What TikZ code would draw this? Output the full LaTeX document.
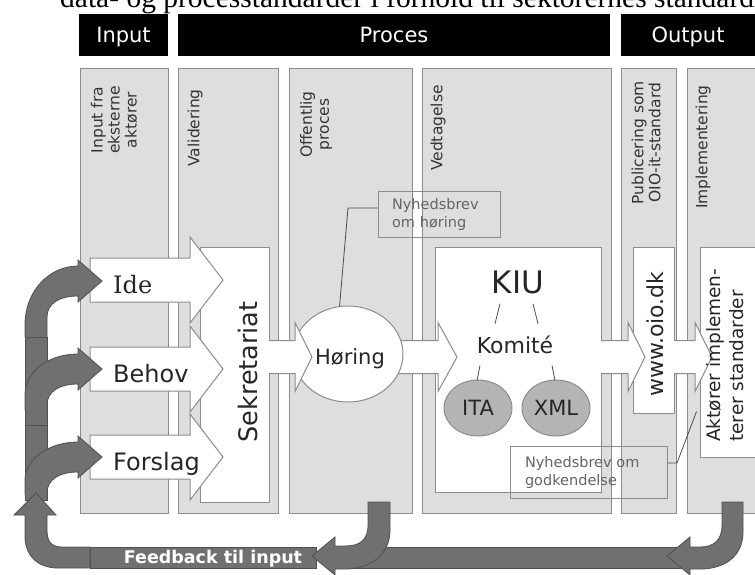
\documentclass[tikz,border=0pt]{standalone}
\usepackage{fontspec}
\setmainfont{Liberation Serif}
\newfontfamily\vsans{DejaVu Sans}
\newfontfamily\vserif{DejaVu Serif}
\usepackage{tikz}
\usetikzlibrary{positioning,shapes.geometric}
\definecolor{colfill}{RGB}{222,222,222}
\definecolor{colline}{RGB}{140,140,140}
\definecolor{fback}{RGB}{112,112,112}
\definecolor{fbline}{RGB}{80,80,80}
\definecolor{udvfill}{RGB}{180,180,180}
\definecolor{notetext}{RGB}{100,100,100}
\newcommand{\fsz}[2]{\fontsize{#1pt}{#2pt}\selectfont}

\begin{document}
\begin{tikzpicture}[x=1pt,y=-1pt,
  column/.style={fill=colfill,draw=colline,line width=1pt},
  whitebox/.style={fill=white,draw=colline,line width=1pt,inner sep=0pt},
  headbar/.style={fill=black,text=white,inner sep=0pt,text height=15pt,text depth=0pt,minimum height=42pt,font=\vsans\fsz{21}{24}},
  coltext/.style={rotate=90,anchor=east,inner sep=0pt,align=center,text=black!80,font=\vsans\fsz{15.5}{17}},
  boxtext/.style={inner sep=0pt,text=black!85,font=\vsans\fsz{#1}{#1}},
  blockarrow/.style={fill=white,draw=colline,line width=1pt},
  feedback/.style={fill=fback,draw=fbline,line width=0.8pt},
  note/.style={draw=colline,line width=0.8pt,align=left,inner xsep=14pt,inner ysep=0pt,text=notetext,font=\vsans\fsz{14.5}{18}},
  thinline/.style={draw=black!70,line width=0.8pt},
  udvalg/.style={ellipse,fill=udvfill,draw=colline,line width=1pt,minimum width=68pt,minimum height=56pt,inner sep=0pt,text=black!85,font=\vsans\fsz{21}{24}}]
  \useasboundingbox (0,0) rectangle (755,574);
  \clip (0,0) rectangle (755,574);
  \fill[white] (0,0) rectangle (755,574);
  \node[anchor=base west,inner sep=0pt,font=\fsz{29.5}{31}] (title) at (60,7) {data- og processtandarder i forhold til sektorernes standardisering};

  \node[headbar,minimum width=89pt] (input) at (123.5,35) {Input};
  \node[headbar,minimum width=432pt] (proces) at (394,35) {Proces};
  \node[headbar,minimum width=134pt] (output) at (688,35) {Output};

  \foreach \a/\b in {80/168,178/278,289/412,422/611,621/676,687/775}
    \draw[column] (\a,68) rectangle (\b,513);
  \node[coltext] (col1) at (114,86) {Input fra\\eksterne\\aktører};
  \node[coltext] (col2) at (195,89) {Validering};
  \node[coltext] (col3) at (316,91) {Offentlig\\proces};
  \node[coltext] (col4) at (438,85) {Vedtagelse};
  \node[coltext] (col5) at (646,81) {Publicering som\\OIO-it-standard};
  \node[coltext] (col6) at (703,85) {Implementering};

  \node[whitebox,minimum width=69pt,minimum height=255pt] (sekr) at (234.5,374.5) {};
  \node[whitebox,minimum width=166pt,minimum height=245pt] (kiu) at (518,369.5) {};
  \node[whitebox,minimum width=41pt,minimum height=166pt] (www) at (653.5,330) {};
  \node[whitebox,minimum width=70pt,minimum height=210pt] (akt) at (735,352) {};

  \foreach \y/\w/\ff in {280/Ide/\vserif,369/Behov/\vsans,457/Forslag/\vsans}{
    \filldraw[blockarrow] (90,\y-22) -- (190,\y-22) -- (190,\y-43) -- (223,\y) -- (190,\y+43) -- (190,\y+22) -- (90,\y+22) -- cycle;
    \node[anchor=base west,inner sep=0pt,text=black!85,font=\ff\fsz{24}{26}] (in\w) at (113,\y+13) {\w};
  }

  \filldraw[blockarrow] (380,340.5) -- (438,340.5) -- (438,322.5) -- (457,357) -- (438,391.5) -- (438,373.5) -- (380,373.5);
  \node[ellipse,fill=white,draw=colline,line width=1pt,minimum width=110pt,minimum height=96pt,inner sep=0pt] (hor) at (348,354) {};
  \foreach \s/\h/\t in {269/295/312,601/628/645,674/695/712}
    \filldraw[blockarrow] (\s,340.5) -- (\h,340.5) -- (\h,322.5) -- (\t,357) -- (\h,391.5) -- (\h,373.5) -- (\s,373.5);

  \node[boxtext=25.5,rotate=90] (sekrtxt) at (248,372) {Sekretariat};
  \node[boxtext=21] (hortxt) at (350,359) {Høring};
  \node[boxtext=31] (kiutxt) at (518,282) {KIU};
  \node[boxtext=22,anchor=base] (komite) at (515,353) {Komité};
  \node[udvalg] (ita) at (478,408) {ITA};
  \node[udvalg] (xml) at (556,408) {XML};
  \draw[thinline] (kiutxt.south) ++(-18,10) -- ++(-5,20);
  \draw[thinline] (kiutxt.south) ++(15,10) -- ++(5,20);
  \draw[thinline] (komite.south) ++(-35,12) -- ++(-3,15);
  \draw[thinline] (komite.south) ++(37,12) -- ++(3,15);
  \node[boxtext=22,rotate=90] (wwwtxt) at (655,334) {www.oio.dk};
  \node[boxtext=18.5,rotate=90,anchor=north west,align=left,font=\vsans\fsz{18.5}{23}] (akttxt) at (706,442) {Aktører implemen-\\terer standarder};

  \node[note,minimum width=122pt,minimum height=46pt,text width=94pt] (nyhhor) at (439,214) {Nyhedsbrev\\om høring};
  \draw[thinline] ([yshift=6pt]nyhhor.west) -- (348,208) -- (hor.100);
  \node[note,minimum width=157pt,minimum height=52pt,text width=127pt,inner xsep=15pt] (nyhgod) at (588.5,472) {Nyhedsbrev om\\godkendelse};
  \draw[thinline] ([yshift=9pt]nyhgod.east) -- (677,463) -- ([xshift=-3pt,yshift=46pt]akt.south west);

  \filldraw[feedback] (90,547) rectangle (316,568);
  \filldraw[feedback] (330,547) rectangle (700,568);
  \filldraw[feedback] (25,337) rectangle (47,425);
  \filldraw[feedback] (25,425) rectangle (47,500);
  \foreach \t/\b/\c/\k in {281/337/325/290,369/410/395/370,457/495/480/458}
    \filldraw[feedback] (25,\b) -- (25,\c) .. controls (25,\k) and (50,\t-15) .. (78,\t-15) -- (78,\t-21) -- (102,\t) -- (78,\t+21) -- (78,\t+15) .. controls (60,\t+15) and (47,\t+22) .. (47,\t+36) -- (47,\b);
  \filldraw[feedback] (90,547) -- (62,547) .. controls (51,547) and (47,541) .. (47,530) -- (47,515) -- (56,515) -- (36,493) -- (14,515) -- (25,515) -- (25,536) .. controls (25,556) and (38,568) .. (58,568) -- (90,568) -- cycle;
  \filldraw[feedback] (390,502) -- (390,530) .. controls (390,555) and (370,569) .. (345,569) -- (335,569) -- (335,575) -- (312,556) -- (335,537) -- (335,546) -- (345,546) .. controls (360,546) and (368,540) .. (368,525) -- (368,502) -- cycle;
  \filldraw[feedback] (743,502) -- (743,532) .. controls (743,556) and (725,569) .. (700,569) -- (690,569) -- (690,575) -- (667,556) -- (690,537) -- (690,547) -- (700,547) .. controls (714,547) and (722,540) .. (722,525) -- (722,502) -- cycle;
  \node[anchor=base,inner sep=0pt,text=white,font=\vsans\bfseries\fsz{17.5}{19}] (fbtxt) at (213,563) {Feedback til input};
\end{tikzpicture}
\end{document}
